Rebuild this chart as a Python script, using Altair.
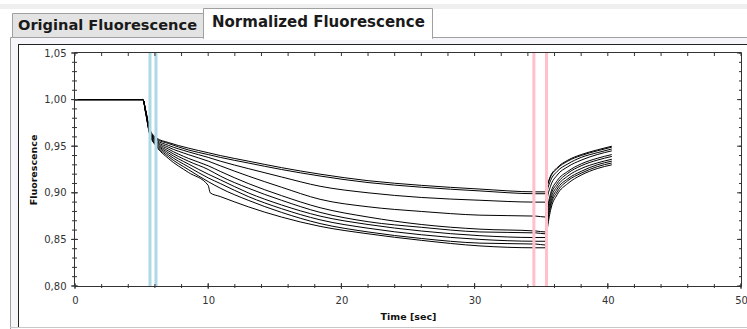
import altair as alt
import pandas as pd

# ---------------- data ----------------
T = [0, 2.5, 5.1, 5.3, 5.6, 6.1, 7, 8.5, 10, 10.9, 13, 15.5, 18.4, 22, 26, 30.4,
     34.6, 35.3, 35.45, 35.7, 36.2, 37, 38, 39.2, 40.3]
T10 = [0, 2.5, 5.1, 5.3, 5.6, 6.1, 7, 8.5, 10, 10.15, 10.9, 13, 15.5, 18.4, 22, 26,
       30.4, 34.6, 35.3, 35.45, 35.7, 36.2, 37, 38, 39.2, 40.3]

C1 = [1.000, 1.000, 1.000, 0.989, 0.969, 0.959, 0.954, 0.948, 0.943, 0.940, 0.934, 0.927, 0.920,
      0.913, 0.908, 0.904, 0.901, 0.901, 0.908, 0.918, 0.927, 0.935, 0.941, 0.946, 0.950]
C2 = [1.000, 1.000, 1.000, 0.989, 0.968, 0.958, 0.953, 0.946, 0.941, 0.938, 0.932, 0.925, 0.918,
      0.911, 0.906, 0.902, 0.899, 0.899, 0.907, 0.917, 0.926, 0.934, 0.940, 0.945, 0.949]
C3 = [1.000, 1.000, 1.000, 0.988, 0.968, 0.957, 0.951, 0.944, 0.938, 0.934, 0.926, 0.917, 0.907,
      0.900, 0.895, 0.892, 0.890, 0.890, 0.902, 0.913, 0.923, 0.931, 0.938, 0.943, 0.947]
C4 = [1.000, 1.000, 1.000, 0.988, 0.967, 0.956, 0.949, 0.941, 0.934, 0.929, 0.918, 0.906, 0.893,
      0.885, 0.880, 0.876, 0.875, 0.874, 0.893, 0.907, 0.919, 0.928, 0.935, 0.941, 0.945]
C5 = [1.000, 1.000, 1.000, 0.988, 0.966, 0.955, 0.947, 0.937, 0.929, 0.923, 0.910, 0.897, 0.884,
      0.874, 0.866, 0.861, 0.859, 0.858, 0.880, 0.899, 0.913, 0.923, 0.931, 0.937, 0.941]
C6 = [1.000, 1.000, 1.000, 0.987, 0.966, 0.954, 0.945, 0.934, 0.925, 0.918, 0.905, 0.892, 0.879,
      0.869, 0.863, 0.858, 0.857, 0.856, 0.877, 0.896, 0.910, 0.921, 0.929, 0.935, 0.939]
C7 = [1.000, 1.000, 1.000, 0.987, 0.965, 0.953, 0.943, 0.931, 0.920, 0.914, 0.900, 0.887, 0.875,
      0.866, 0.859, 0.854, 0.852, 0.852, 0.872, 0.892, 0.907, 0.918, 0.926, 0.932, 0.936]
C8 = [1.000, 1.000, 1.000, 0.987, 0.964, 0.952, 0.941, 0.928, 0.916, 0.910, 0.896, 0.883, 0.871,
      0.862, 0.855, 0.850, 0.848, 0.848, 0.868, 0.888, 0.904, 0.915, 0.923, 0.930, 0.934]
C9 = [1.000, 1.000, 1.000, 0.986, 0.964, 0.951, 0.939, 0.925, 0.912, 0.905, 0.892, 0.879, 0.867,
      0.858, 0.851, 0.846, 0.845, 0.844, 0.864, 0.885, 0.901, 0.913, 0.921, 0.928, 0.932]
C10 = [1.000, 1.000, 1.000, 0.986, 0.963, 0.950, 0.937, 0.922, 0.908, 0.900, 0.896, 0.885, 0.874,
       0.864, 0.856, 0.849, 0.843, 0.841, 0.841, 0.860, 0.881, 0.898, 0.910, 0.919, 0.926, 0.930]

BLUE_MARKERS = [5.63, 6.08]
PINK_MARKERS = [34.45, 35.4]

X_MAJOR = [0, 10, 20, 30, 40, 50]
X_MINOR = [0, 2, 4, 6, 8, 10, 12, 14, 16, 18, 20, 22, 24, 26, 28, 30, 32, 34, 36, 38, 40,
           42, 44, 46, 48, 50]
Y_MAJOR = [0.80, 0.85, 0.90, 0.95, 1.00, 1.05]
Y_MINOR = [0.80, 0.81, 0.82, 0.83, 0.84, 0.85, 0.86, 0.87, 0.88, 0.89, 0.90, 0.91, 0.92, 0.93,
           0.94, 0.95, 0.96, 0.97, 0.98, 0.99, 1.00, 1.01, 1.02, 1.03, 1.04, 1.05]

TAB_LABELS = ["Original Fluorescence", "Normalized Fluorescence"]

# ---------------- layout ----------------
PL, PT = 75, 53          # plot origin in window pixels
W, H = 666, 233          # plot area
TOTAL_W, TOTAL_H = 747, 329


def ax(px):
    return px - PL


def ay(py):
    return py - PT


rows = []
for name, ts, vs in [("C1", T, C1), ("C2", T, C2), ("C3", T, C3), ("C4", T, C4), ("C5", T, C5),
                     ("C6", T, C6), ("C7", T, C7), ("C8", T, C8), ("C9", T, C9), ("C10", T10, C10)]:
    for t, v in zip(ts, vs):
        rows.append({"curve": name, "t": t, "v": v})
df = pd.DataFrame(rows)

LABEL_FONT = "DejaVu Sans"

X_ENC = alt.X(
    "t:Q",
    scale=alt.Scale(domain=[0, 50], nice=False, zero=False),
    axis=alt.Axis(values=X_MAJOR, ticks=False, tickSize=0, domain=False, grid=False, zindex=5,
                  labelFont=LABEL_FONT, labelFontSize=10, labelColor="#333333",
                  labelPadding=9, labelFlush=False,
                  title="Time [sec]", titleFont=LABEL_FONT, titleFontSize=9.5,
                  titleFontWeight="bold", titleColor="#111111",
                  titleX=W / 2, titleY=30, titleBaseline="middle", titleAlign="center"),
)
Y_ENC = alt.Y(
    "v:Q",
    scale=alt.Scale(domain=[0.80, 1.05], nice=False, zero=False),
    axis=alt.Axis(values=Y_MAJOR, ticks=False, tickSize=0, domain=False, grid=False, zindex=5,
                  labelFont=LABEL_FONT, labelFontSize=10, labelColor="#333333",
                  labelPadding=9, labelFlush=False,
                  labelExpr="replace(format(datum.value, '.2f'), '.', ',')",
                  title="Fluorescence", titleFont=LABEL_FONT, titleFontSize=9.5,
                  titleFontWeight="bold", titleColor="#111111",
                  titleX=-42, titleY=H / 2, titleAngle=-90, titleBaseline="middle",
                  titleAlign="center"),
)


def blank():
    return alt.Data(values=[{"k": 1}])


def box(x1, x2, y1, y2, fill, stroke=None, sw=1):
    kw = {"fill": fill}
    if stroke is not None:
        kw["stroke"] = stroke
        kw["strokeWidth"] = sw
    else:
        kw["strokeWidth"] = 0
    return alt.Chart(blank()).mark_rect(**kw).encode(
        x=alt.value(ax(x1)), x2=alt.value(ax(x2)), y=alt.value(ay(y1)), y2=alt.value(ay(y2)))


def seg(x1, x2, y1, y2, color):
    return alt.Chart(blank()).mark_rule(color=color, strokeWidth=1).encode(
        x=alt.value(ax(x1)), x2=alt.value(ax(x2)), y=alt.value(ay(y1)), y2=alt.value(ay(y2)))


chrome = [
    box(0, 747, 4, 9, "#efefef"),
    box(10.5, 760, 37.5, 340, "#f6f6fa", "#a0a0a0"),
    box(12.5, 203.5, 13.5, 37.5, "#e3e3e3", "#a0a0a0"),
    box(203.5, 432.5, 8.5, 38.5, "#ffffff", "#a0a0a0"),
    box(204, 432, 36, 40, "#ffffff"),
    box(18, 760, 44, 340, "#ffffff"),
    seg(18.5, 18.5, 44, 327, "#222222"),
    seg(18, 747, 44.5, 44.5, "#222222"),
    seg(10, 747, 327.5, 327.5, "#c8c8c8"),
]

TAB_X = [18, 212]
TAB_Y = [26, 22]
TAB_SIZE = [14.6, 15]
tabs = [
    alt.Chart(pd.DataFrame({"label": [TAB_LABELS[i]]})).mark_text(
        font=LABEL_FONT, fontSize=TAB_SIZE[i], fontWeight="bold", color="#1a1a1a",
        align="left", baseline="middle").encode(
        x=alt.value(ax(TAB_X[i])), y=alt.value(ay(TAB_Y[i])), text="label:N")
    for i in range(2)
]

lines = alt.Chart(df).mark_line(color="black", strokeWidth=1, interpolate="monotone").encode(
    x=X_ENC, y=Y_ENC, detail="curve:N")

mk_df = pd.DataFrame({"t": BLUE_MARKERS + PINK_MARKERS,
                      "kind": ["blue"] * len(BLUE_MARKERS) + ["pink"] * len(PINK_MARKERS)})
markers = alt.Chart(mk_df).mark_rule(strokeWidth=3).encode(
    x=X_ENC,
    color=alt.Color("kind:N", scale=alt.Scale(domain=["blue", "pink"],
                                              range=["#add8e6", "#ffbfcb"]), legend=None))

frame = alt.Chart(blank()).mark_rect(fill=None, stroke="#333333", strokeWidth=1).encode(
    x=alt.value(-0.5), x2=alt.value(W + 0.5), y=alt.value(-0.5), y2=alt.value(H + 0.5))

xminor_df = pd.DataFrame({"t": X_MINOR})
xmajor_df = pd.DataFrame({"t": X_MAJOR})
yminor_df = pd.DataFrame({"v": Y_MINOR})
ymajor_df = pd.DataFrame({"v": Y_MAJOR})

TICK = "#333333"
ticks = [
    # bottom
    alt.Chart(xminor_df).mark_rule(color=TICK, strokeWidth=1).encode(
        x=X_ENC, y=alt.value(H - 2), y2=alt.value(H + 2)),
    alt.Chart(xmajor_df).mark_rule(color=TICK, strokeWidth=1).encode(
        x=X_ENC, y=alt.value(H - 3), y2=alt.value(H + 3)),
    # top (inward)
    alt.Chart(xminor_df).mark_rule(color=TICK, strokeWidth=1).encode(
        x=X_ENC, y=alt.value(0), y2=alt.value(3)),
    # left (crossing)
    alt.Chart(yminor_df).mark_rule(color=TICK, strokeWidth=1).encode(
        y=Y_ENC, x=alt.value(-3), x2=alt.value(2)),
    alt.Chart(ymajor_df).mark_rule(color=TICK, strokeWidth=1).encode(
        y=Y_ENC, x=alt.value(-4), x2=alt.value(3)),
    # right (inward)
    alt.Chart(yminor_df).mark_rule(color=TICK, strokeWidth=1).encode(
        y=Y_ENC, x=alt.value(W - 2), x2=alt.value(W)),
    alt.Chart(ymajor_df).mark_rule(color=TICK, strokeWidth=1).encode(
        y=Y_ENC, x=alt.value(W - 4), x2=alt.value(W)),
]

chart = alt.layer(*chrome, *tabs, lines, markers, frame, *ticks).properties(
    width=W, height=H,
    autosize=alt.AutoSizeParams(type="none"),
    padding={"left": PL, "top": PT, "right": TOTAL_W - PL - W, "bottom": TOTAL_H - PT - H},
    background="white",
).configure_view(stroke=None)

chart.save("out.html", embed_options={"renderer": "svg", "actions": False})
